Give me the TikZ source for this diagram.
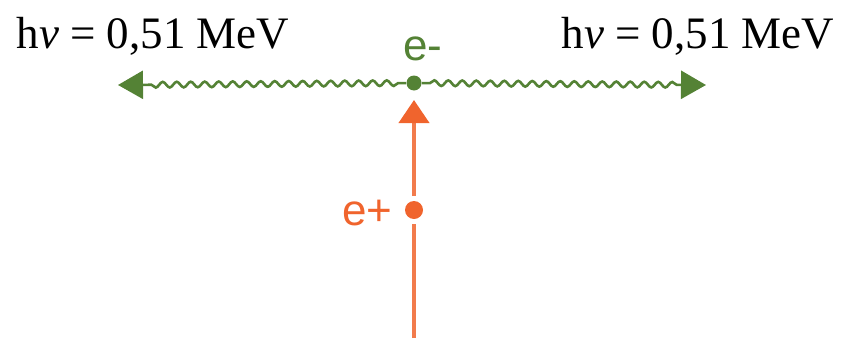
\documentclass[tikz,border=0pt]{standalone}
\usepackage{fontspec}
\setmainfont{Liberation Serif}
\newfontfamily\partfont{Liberation Sans}
\usetikzlibrary{positioning,calc}
\usetikzlibrary{arrows.meta,decorations.pathmorphing}
\definecolor{PhotonGreen}{RGB}{84,130,53}
\definecolor{PosOrange}{RGB}{240,100,45}
\tikzset{
	dot/.style={circle,inner sep=0pt,minimum size=#1},
	photon/.style={draw=PhotonGreen,line width=1.3pt,
		-{Triangle[length=12.5pt,width=14pt]},
		decorate,decoration={snake,segment length=7pt,amplitude=1.4pt,pre length=4pt,post length=14pt}},
	positron/.style={draw=PosOrange!85!white,line width=2pt},
	energy/.style={anchor=base,inner sep=0pt,font=\fontsize{22.5}{27}\selectfont},
	particle/.style={anchor=base west,inner sep=0pt,font=\partfont\fontsize{22}{26}\selectfont},
}

\begin{document}
\begin{tikzpicture}[x=0.5pt,y=-0.5pt]
					\useasboundingbox (0,0) rectangle (846,338);
					\coordinate (left) at (118,85);
					\coordinate (right) at (706,85);
					\coordinate (src) at (414,338);
					\coordinate (tip) at (414,100);
					\node[dot=7.5pt,fill=PhotonGreen] (em) at (414,83) {};
					\node[dot=9pt,fill=PosOrange,outer sep=2.5pt] (ep) at (414,210) {};
					\draw[photon] (em) -- (left);
					\draw[photon] (em) -- (right);
					\draw[positron] (src) -- (ep);
					\draw[positron,-{Triangle[length=11.5pt,width=15pt,color=PosOrange]}] (ep) -- (tip);
					\node[energy] (hvl) at (153,48) {h\textit{ν} = 0,51 MeV};
					\node[energy] (hvr) at (698,48) {h\textit{ν} = 0,51 MeV};
					\node[particle,PhotonGreen] (lem) at (403,60) {e-};
					\node[particle,PosOrange] (lep) at (342,225) {e+};
				\end{tikzpicture}
\end{document}
